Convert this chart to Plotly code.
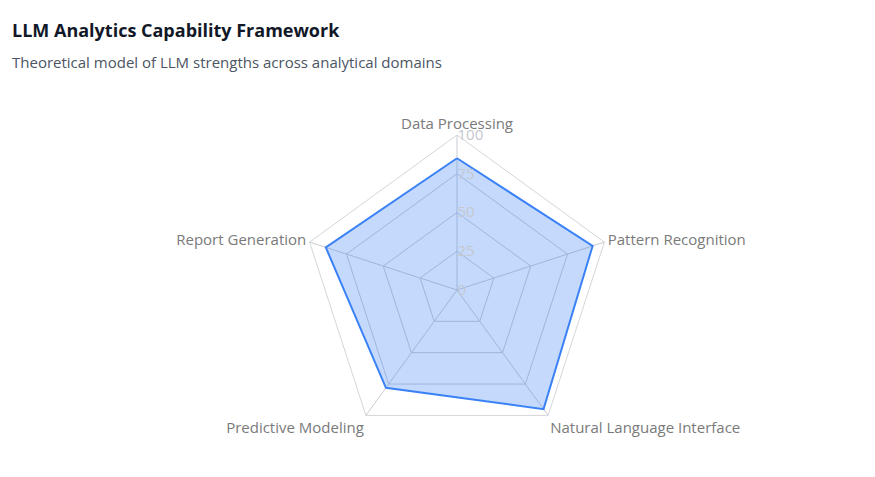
import plotly.graph_objects as go

categories = ["Data Processing", "Pattern Recognition", "Natural Language Interface",
              "Predictive Modeling", "Report Generation"]
scores = [85, 92, 95, 78, 89]
radial_ticks = [0, 25, 50, 75, 100]

theta = categories + [categories[0]]
r = scores + [scores[0]]

fig = go.Figure()
fig.add_trace(go.Scatterpolar(
    r=r, theta=theta, mode="lines", fill="toself",
    fillcolor="rgba(59,130,246,0.3)",
    line=dict(color="#3b82f6", width=2),
    showlegend=False,
))

W, H = 875, 477
OFF = 8  # page body margin
cx, cy, R = 457 - OFF, 290 - OFF, 155
fig.update_layout(
    width=W, height=H,
    paper_bgcolor="white", plot_bgcolor="white",
    margin=dict(l=0, r=0, t=0, b=0),
    font=dict(family="Segoe UI, Open Sans, sans-serif"),
    polar=dict(
        domain=dict(x=[(cx - R) / W, (cx + R) / W], y=[(H - cy - R) / H, (H - cy + R) / H]),
        gridshape="linear",
        bgcolor="rgba(0,0,0,0)",
        radialaxis=dict(
            range=[0, 100], tickvals=radial_ticks, angle=90, tickangle=90,
            showline=False, ticks="",
            gridcolor="#c9ccd3", gridwidth=1,
            tickfont=dict(size=15, color="#c4c8cf"),
        ),
        angularaxis=dict(
            rotation=90, direction="clockwise",
            linecolor="#d4d6da", linewidth=1,
            gridcolor="#c9ccd3", ticks="",
            tickfont=dict(size=15, color="#7a7a7a"),
        ),
    ),
    annotations=[
        dict(text="<b>LLM Analytics Capability Framework</b>", x=(10 - OFF) / W, y=1 - (30 - OFF) / H,
             xref="paper", yref="paper", xanchor="left", yanchor="middle", showarrow=False,
             font=dict(size=18, color="#111827")),
        dict(text="Theoretical model of LLM strengths across analytical domains", x=(10 - OFF) / W,
             y=1 - (62 - OFF) / H,
             xref="paper", yref="paper", xanchor="left", yanchor="middle", showarrow=False,
             font=dict(size=15, color="#4b5563")),
    ],
)

fig.write_html("out.html")
